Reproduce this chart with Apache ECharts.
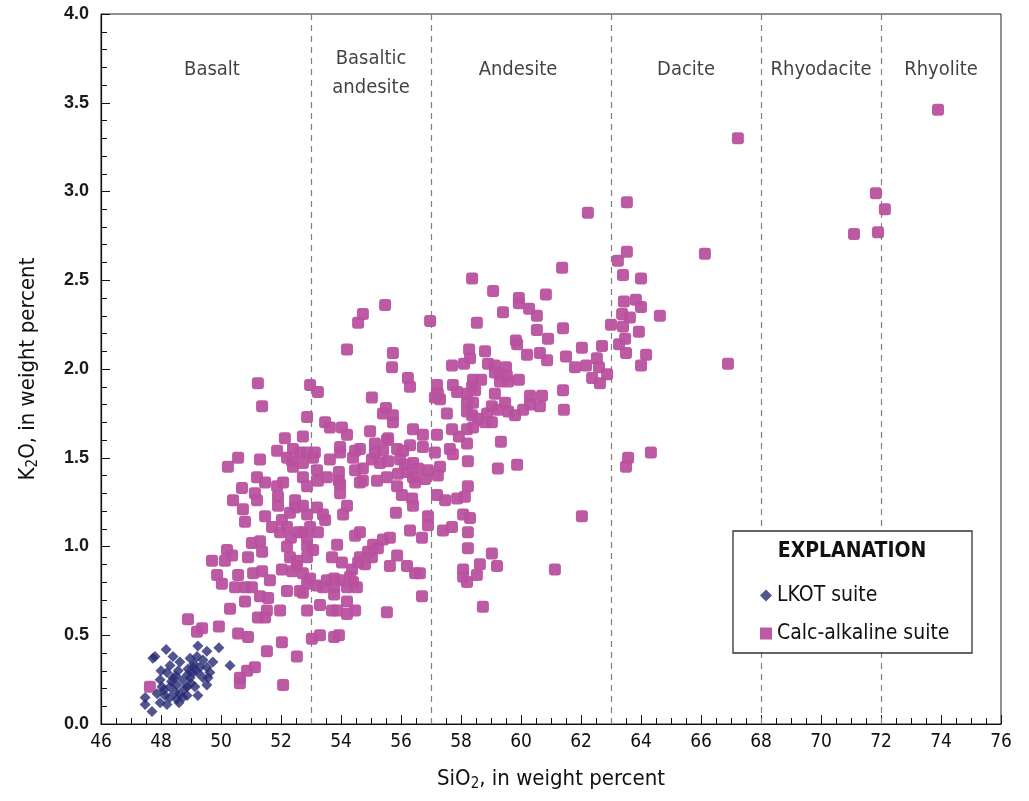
<!DOCTYPE html>
<html>
<head>
<meta charset="utf-8">
<script src="https://cdn.jsdelivr.net/npm/echarts@6/dist/echarts.min.js"></script>
<style>html,body{margin:0;padding:0;background:#fff}#c{width:1029px;height:801px}</style>
</head>
<body>
<div id="c"></div>
<script>
const xTicks = [46,48,50,52,54,56,58,60,62,64,66,68,70,72,74,76];
const yTicks = [0.0,0.5,1.0,1.5,2.0,2.5,3.0,3.5,4.0];
const boundaries = [53,57,63,68,72];
const regionNames = ['Basalt','Basaltic\nandesite','Andesite','Dacite','Rhyodacite','Rhyolite'];
const regionX = [49.7,55.0,59.9,65.5,70.0,74.0];
const regionY = [3.685,3.665,3.685,3.685,3.685,3.685];

const lkotPoints = [
[48.17,0.42],[47.8,0.38],[47.73,0.37],[48.4,0.38],[49.23,0.44],[49.53,0.41],[49.93,0.43],[48.63,0.35],
[48.3,0.33],[48.97,0.37],[49.2,0.38],[49.4,0.36],[49.73,0.35],[49.07,0.32],[49.3,0.32],[49.63,0.29],
[50.3,0.33],[48.2,0.29],[48.57,0.30],[48.9,0.31],[49.53,0.32],[49.23,0.29],[49.57,0.26],[48.97,0.26],
[47.97,0.25],[48.4,0.26],[48.73,0.25],[48.3,0.21],[48.53,0.22],[48.03,0.21],[48.87,0.21],[49.13,0.21],
[49.53,0.22],[48.47,0.18],[47.87,0.17],[48.13,0.16],[48.63,0.17],[48.87,0.16],[49.23,0.16],[47.47,0.15],
[48.3,0.15],[48.53,0.14],[47.97,0.12],[48.2,0.11],[47.47,0.11],[47.7,0.07],[48.73,0.15],[49.07,0.29],
[48.0,0.30],[48.5,0.27],[48.8,0.20],[49.0,0.23],[48.6,0.12],[48.1,0.19],[49.4,0.26],[49.1,0.34],
[48.35,0.24],[48.9,0.28]
];

const calcPoints = [
[67.23,3.30],[73.9,3.46],[71.83,2.99],[72.13,2.90],[71.9,2.77],[71.1,2.76],[66.13,2.65],[66.9,2.03],
[63.53,2.94],[62.23,2.88],[61.37,2.57],[63.53,2.66],[63.23,2.61],[63.4,2.53],[64.0,2.51],[63.43,2.38],
[63.83,2.39],[64.0,2.35],[64.63,2.30],[63.37,2.31],[63.0,2.25],[63.63,2.29],[63.4,2.24],[63.93,2.21],
[63.47,2.17],[63.27,2.14],[63.5,2.09],[64.17,2.08],[64.0,2.02],[62.7,2.13],[62.03,2.12],[62.53,2.06],
[62.17,2.02],[61.8,2.01],[62.6,2.01],[62.87,1.97],[62.37,1.95],[62.63,1.92],[61.5,2.07],[61.4,2.23],
[61.4,1.88],[61.43,1.77],[64.33,1.53],[63.57,1.50],[63.5,1.45],[62.03,1.17],[61.13,0.87],
[58.37,2.51],[59.07,2.44],[59.93,2.40],[60.83,2.42],[59.93,2.37],[60.27,2.34],[60.53,2.30],[59.4,2.32],
[56.97,2.27],[58.53,2.26],[60.53,2.22],[60.9,2.17],[59.83,2.16],[59.87,2.14],[60.2,2.08],[60.63,2.09],
[60.87,2.05],[58.27,2.11],[58.8,2.10],[58.3,2.06],[58.1,2.03],[57.7,2.02],[58.9,2.03],[59.13,2.02],
[59.13,1.98],[59.5,2.01],[59.3,1.97],[59.53,1.96],[59.93,1.94],[59.3,1.93],[59.57,1.93],[58.4,1.94],
[58.67,1.94],[58.37,1.90],[57.2,1.91],[57.23,1.86],[57.13,1.84],[57.3,1.83],[57.73,1.91],[57.87,1.87],
[58.2,1.86],[58.47,1.88],[59.13,1.86],[60.3,1.85],[60.7,1.85],[58.2,1.81],[58.4,1.81],[59.47,1.81],
[60.3,1.80],[60.63,1.79],[57.53,1.75],[58.2,1.76],[58.37,1.74],[59.03,1.79],[58.87,1.75],[59.23,1.77],
[59.57,1.76],[59.8,1.74],[60.07,1.77],[58.57,1.72],[58.8,1.70],[59.03,1.70],[58.4,1.67],[58.2,1.66],
[57.7,1.66],[57.93,1.62],[56.73,1.63],[57.2,1.63],[58.2,1.58],[59.33,1.59],[56.73,1.56],[57.63,1.55],
[57.13,1.53],[57.73,1.52],[58.23,1.48],[57.3,1.45],[59.23,1.44],[59.87,1.46],[56.9,1.43],[56.8,1.38],
[57.23,1.40],[58.23,1.34],
[57.2,1.29],[57.47,1.26],[57.87,1.27],[58.13,1.28],[56.9,1.17],[56.9,1.12],[58.07,1.18],[58.3,1.16],
[57.4,1.09],[57.7,1.11],[58.23,1.08],[56.7,1.05],[58.23,0.99],[59.03,0.96],[58.07,0.87],[58.07,0.83],
[58.2,0.80],[58.53,0.84],[58.63,0.90],[59.2,0.89],[58.73,0.66],[56.7,0.72],[56.63,0.85],
[52.97,1.91],[53.23,1.87],[55.03,1.84],[55.5,1.78],[55.4,1.75],[55.73,1.74],[55.73,1.70],[56.3,1.90],
[52.87,1.73],[53.47,1.70],[53.63,1.67],[54.03,1.67],[54.2,1.63],[54.97,1.65],[52.73,1.62],[53.97,1.56],
[53.97,1.53],[54.47,1.54],[54.63,1.55],[55.13,1.58],[55.53,1.60],[55.13,1.53],[55.4,1.54],[55.87,1.55],
[56.07,1.54],[56.3,1.57],[56.4,1.66],[52.87,1.53],[53.13,1.53],[53.07,1.50],[53.63,1.49],[54.4,1.50],
[54.47,1.43],[54.73,1.44],[55.03,1.49],[55.3,1.47],[55.57,1.48],[55.97,1.49],[56.13,1.46],[56.4,1.47],
[56.57,1.44],[56.2,1.42],[55.9,1.41],[56.4,1.39],[52.73,1.47],[52.73,1.39],[53.2,1.43],[53.53,1.39],
[53.93,1.42],[53.93,1.37],[53.23,1.37],[54.63,1.36],[54.73,1.37],[55.2,1.37],[55.53,1.39],[55.87,1.34],
[56.47,1.36],[52.87,1.34],[53.97,1.35],[53.97,1.30],[56.03,1.29],[56.37,1.27],[56.4,1.23],[52.73,1.23],
[53.2,1.22],[53.4,1.18],[52.87,1.18],[53.47,1.15],[54.2,1.23],[54.07,1.18],[55.83,1.19],[56.3,1.09],
[52.73,1.08],[52.97,1.11],[53.23,1.08],[52.87,1.05],[54.47,1.06],[54.63,1.08],[55.63,1.05],[55.4,1.04],
[53.87,1.01],[52.87,1.00],[53.07,0.98],[55.07,1.01],[55.23,0.99],[55.87,0.95],[54.9,0.97],[52.87,0.94],
[53.7,0.94],[54.63,0.94],[55.03,0.94],[54.57,0.91],[54.8,0.90],[54.03,0.91],[54.37,0.87],[55.63,0.89],
[56.2,0.89],[56.47,0.85],[52.73,0.85],[52.97,0.82],[52.87,0.79],[53.53,0.81],[53.77,0.82],[53.97,0.81],
[54.3,0.83],[54.4,0.80],[53.77,0.77],[54.2,0.77],[54.53,0.77],[53.4,0.77],[53.2,0.78],[52.73,0.74],
[53.77,0.73],[52.87,0.64],[53.3,0.67],[53.7,0.64],[54.2,0.69],[54.47,0.64],[54.2,0.62],[53.87,0.64],
[55.53,0.63],[53.03,0.48],[53.3,0.50],[53.77,0.49],[53.93,0.50],
[52.13,1.61],[51.87,1.54],[52.4,1.55],[52.63,1.53],[50.57,1.50],[50.23,1.45],[51.3,1.49],[52.2,1.50],
[52.37,1.48],[52.4,1.45],[51.2,1.39],[51.47,1.36],[52.07,1.36],[51.87,1.34],[50.7,1.33],[51.13,1.30],
[50.4,1.26],[51.2,1.26],[51.9,1.28],[51.9,1.23],[52.47,1.26],[52.47,1.22],[50.73,1.21],[50.8,1.14],
[51.47,1.17],[51.7,1.11],[52.03,1.15],[52.2,1.11],[51.97,1.08],[52.33,1.05],[52.57,1.08],[52.2,1.00],
[51.03,1.02],[51.3,1.03],[51.37,0.97],[50.2,0.98],[50.37,0.95],[50.13,0.92],[49.7,0.92],[50.9,0.94],
[52.3,0.94],[52.53,0.92],[52.53,0.89],[49.87,0.84],[50.03,0.79],[50.47,0.77],[50.57,0.84],[51.07,0.85],
[51.37,0.86],[51.63,0.81],[52.03,0.87],[52.37,0.86],[50.8,0.77],[51.03,0.77],[51.3,0.72],[51.57,0.71],
[52.2,0.75],[52.63,0.75],[50.8,0.69],[50.3,0.65],[51.23,0.60],[51.47,0.60],[51.97,0.64],[51.53,0.64],
[48.9,0.59],[49.2,0.52],[49.37,0.54],[49.93,0.55],[50.57,0.51],[50.9,0.49],[52.03,0.46],[51.53,0.41],
[52.53,0.38],[50.63,0.26],[50.87,0.30],[51.13,0.32],[50.63,0.23],[52.07,0.22],
[55.57,1.61],[52.3,1.19],[47.63,0.21],[51.23,1.92],[51.37,1.79],[55.47,2.36],[54.73,2.31],[54.57,2.26],
[54.2,2.11],[55.73,2.09],[55.7,2.01],[56.23,1.95]
];

const COND = "'Liberation Sans Narrow','DejaVu Sans Condensed',sans-serif";
const chart = echarts.init(document.getElementById('c'), null, {renderer:'canvas'});
const regionData = regionNames.map((n,i)=>[regionX[i], regionY[i], n]);

chart.setOption({
  animation:false,
  backgroundColor:'#fff',
  grid:{left:101, right:28, top:14, bottom:77, show:true, borderColor:'#222', borderWidth:1, backgroundColor:'transparent'},
  xAxis:{
    type:'value', min:46, max:76, interval:2,
    axisLine:{lineStyle:{color:'#111', width:1.2}},
    axisTick:{inside:true, length:9, lineStyle:{color:'#111'}},
    minorTick:{show:true, splitNumber:4, length:6, lineStyle:{color:'#111'}},
    splitLine:{show:false},
    axisLabel:{fontFamily:COND, fontSize:19, color:'#111', margin:9, formatter:v=>xTicks.includes(v)?String(v):''},
    name:'{a|SiO}{s|2}{a|, in weight percent}',
    nameLocation:'middle', nameGap:42,
    nameTextStyle:{rich:{a:{fontFamily:COND, fontSize:22, color:'#111', lineHeight:26}, s:{fontFamily:COND, fontSize:15, color:'#111', verticalAlign:'bottom', lineHeight:20}}}
  },
  yAxis:{
    type:'value', min:0, max:4, interval:0.5,
    axisLine:{show:true, lineStyle:{color:'#111', width:1.2}},
    axisTick:{show:true, inside:true, length:9, lineStyle:{color:'#111'}},
    minorTick:{show:true, splitNumber:5, length:6, lineStyle:{color:'#111'}},
    splitLine:{show:false},
    axisLabel:{fontFamily:"'Liberation Sans',Arial,sans-serif", fontWeight:'bold', fontSize:18, color:'#1a1a1a', margin:12, formatter:v=>yTicks.includes(v)?v.toFixed(1):''},
    name:'{a|K}{s|2}{a|O, in weight percent}',
    nameLocation:'middle', nameGap:60, nameRotate:90,
    nameTextStyle:{rich:{a:{fontFamily:COND, fontSize:22, color:'#111', lineHeight:26}, s:{fontFamily:COND, fontSize:15, color:'#111', verticalAlign:'bottom', lineHeight:20}}}
  },
  legend:{
    orient:'vertical', left:755, top:580, itemGap:17, itemWidth:12, itemHeight:12,
    textStyle:{fontFamily:COND, fontSize:21, color:'#111'},
    data:[{name:'LKOT suite', icon:'diamond'},{name:'Calc-alkaline suite', icon:'rect'}]
  },
  graphic:[
    {type:'rect', shape:{x:733, y:531, width:239, height:122}, style:{fill:'#fff', stroke:'#333', lineWidth:1.3}, z:3},
    {type:'text', x:852, y:552, style:{text:'EXPLANATION', fontFamily:COND, fontWeight:'bold', fontSize:21, fill:'#111', align:'center', verticalAlign:'middle'}, z:4}
  ],
  series:[
    {
      name:'Calc-alkaline suite', type:'scatter', symbol:'roundRect', symbolSize:12,
      itemStyle:{color:'#b8519f', opacity:0.95},
      data:calcPoints, z:2,
      markLine:{silent:true, symbol:'none', z:1, label:{show:false},
        lineStyle:{type:[6,5], color:'#808080', width:1.2},
        data:boundaries.map(b=>({xAxis:b}))}
    },
    {
      name:'LKOT suite', type:'scatter', symbol:'diamond', symbolSize:11,
      itemStyle:{color:'#272a74'},
      data:lkotPoints, z:3
    },
    {
      name:'regions', type:'scatter', symbolSize:0, silent:true,
      data:regionData,
      label:{show:true, position:'inside', formatter:p=>p.data[2], fontFamily:COND, fontSize:20, color:'#111', lineHeight:29}
    }
  ]
});
</script>
</body>
</html>
